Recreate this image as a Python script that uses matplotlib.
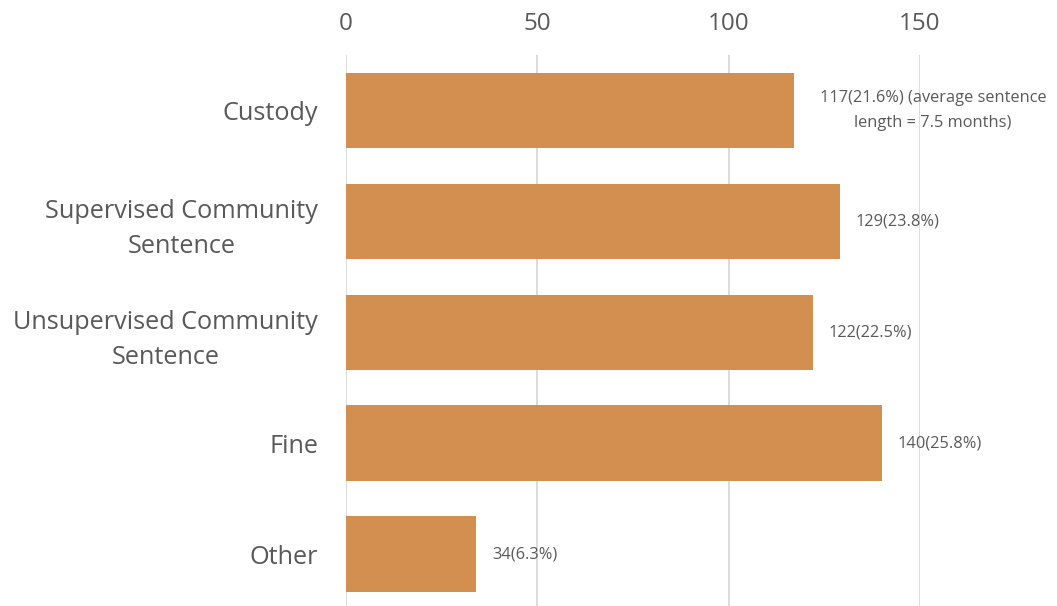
import matplotlib.pyplot as plt

plt.rcParams['font.family'] = ['Open Sans', 'DejaVu Sans']

# Data
categories = ["Custody", "Supervised Community\nSentence", "Unsupervised Community\nSentence", "Fine", "Other"]
counts = [117, 129, 122, 140, 34]
percents = [21.6, 23.8, 22.5, 25.8, 6.3]
notes = ["(average sentence\nlength = 7.5 months)", "", "", "", ""]
xticks = [0, 50, 100, 150]

bar_color = "#D38F50"
text_color = "#595959"

W, H = 1057, 606
fig = plt.figure(figsize=(W / 100, H / 100), dpi=100)
ax = fig.add_axes([346 / W, 0, (920 - 346) / W, (H - 55) / H])

pos = list(range(len(categories)))
ax.barh(pos, counts, height=0.68, color=bar_color, zorder=2)

ax.set_xlim(0, 150)
ax.set_ylim(-0.5 + (H - 55) / 110.9, -0.5)
ax.set_xticks(xticks)
ax.xaxis.tick_top()
ax.set_yticks(pos)
ax.set_yticklabels(categories, ha='right', multialignment='center', linespacing=1.5)
ax.tick_params(axis='x', length=0, pad=14, labelsize=17.5, labelcolor=text_color)
ax.tick_params(axis='y', length=0, pad=20, labelsize=18.2, labelcolor=text_color)
ax.grid(axis='x', color="#D9D9D9", linewidth=1.3, zorder=0)
ax.set_axisbelow(True)
for s in ax.spines.values():
    s.set_visible(False)

for y, c, p, n in zip(pos, counts, percents, notes):
    label = f"{c}({p}%)"
    off = 16
    if n:
        first, second = n.split("\n")
        label = f"{label} {first}\n{second}"
        off = 26
    t = ax.annotate(label, (c, y), xytext=(off, 0), textcoords='offset pixels',
                    ha='left', va='center', multialignment='center',
                    fontsize=11.8, color=text_color, annotation_clip=False)
    t.set_linespacing(1.75)

fig.savefig("out.png", dpi=100)
